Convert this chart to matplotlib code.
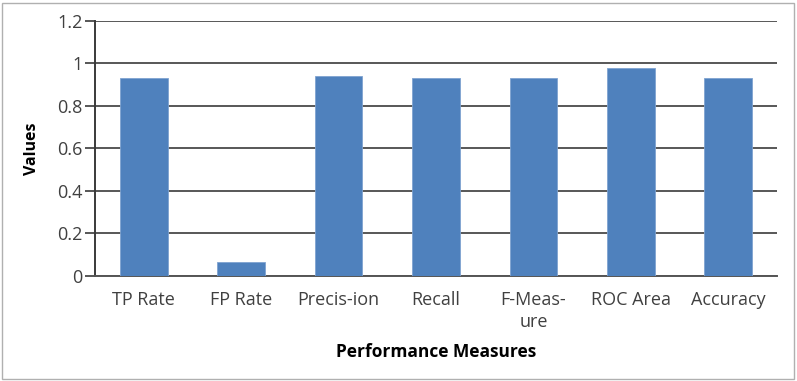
import matplotlib.pyplot as plt
from matplotlib.patches import Rectangle

# performance measures of the classifier
measures = ["TP Rate", "FP Rate", "Precis-ion", "Recall", "F-Meas-\nure", "ROC Area", "Accuracy"]
values = [0.932, 0.066, 0.941, 0.932, 0.932, 0.979, 0.932]
yticks = [0, 0.2, 0.4, 0.6, 0.8, 1, 1.2]
ytick_labels = ["0", "0.2", "0.4", "0.6", "0.8", "1", "1.2"]

plt.rcParams['font.family'] = ['Open Sans', 'DejaVu Sans']

fig = plt.figure(figsize=(7.97, 3.81), dpi=100)
ax = fig.add_axes([0.1192, 0.2756, 0.8558, 0.6693])

x = range(len(measures))
ax.bar(x, values, width=0.49, color='#4f81bd', edgecolor='#7fa3d0', linewidth=0.6, zorder=3)

ax.set_xlim(-0.5, len(measures) - 0.5)
ax.set_ylim(0, 1.2)
ax.set_yticks(yticks)
ax.set_yticklabels(ytick_labels)
ax.yaxis.grid(True, color='#4a4a4a', linewidth=1.3, zorder=0)
ax.set_xticks(list(x))
ax.set_xticklabels(measures, linespacing=1.25)

for side in ['top', 'right']:
    ax.spines[side].set_visible(False)
ax.spines['left'].set_color('#3a3a3a')
ax.spines['left'].set_linewidth(1.4)
ax.spines['bottom'].set_color('#555555')
ax.spines['bottom'].set_linewidth(1.4)

ax.tick_params(axis='y', length=7, width=1.2, color='#3a3a3a', labelsize=13, labelcolor='#404040', pad=2)
ax.tick_params(axis='x', length=0, labelsize=13, labelcolor='#404040', pad=11)

ax.set_ylabel("Values", fontsize=11.5, fontweight='bold', labelpad=12)
ax.set_xlabel("Performance Measures", fontsize=12.5, fontweight='bold', labelpad=9)

# light frame round the chart area
fig.patches.append(Rectangle((0.003, 0.005), 0.993, 0.988, transform=fig.transFigure,
                             fill=False, edgecolor='#b0b0b0', linewidth=1.0))

fig.savefig("out.png", dpi=100)
